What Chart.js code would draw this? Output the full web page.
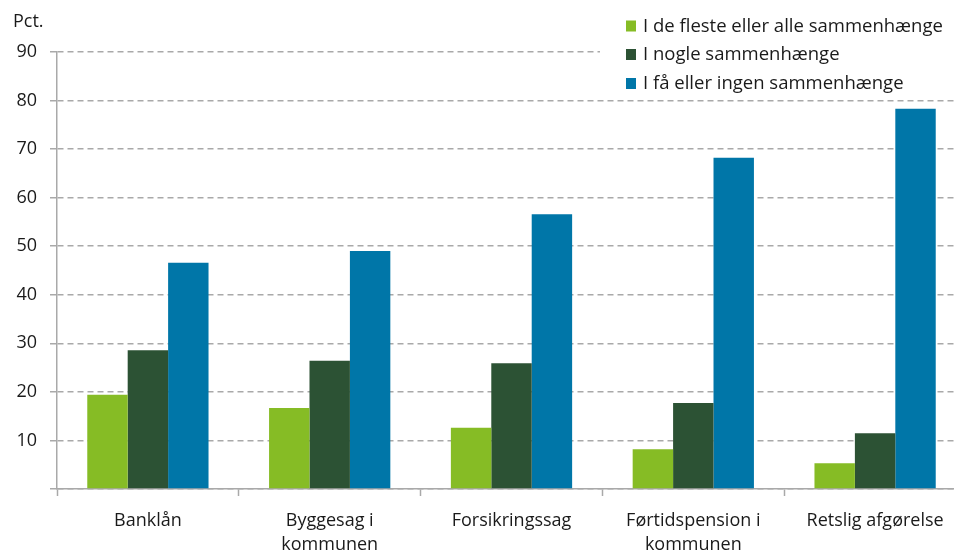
<!DOCTYPE html>
<html lang="da">
<head>
<meta charset="utf-8">
<title>Pct.</title>
<script src="https://cdn.jsdelivr.net/npm/chart.js@4/dist/chart.umd.min.js"></script>
<style>
  html, body { margin: 0; padding: 0; background: #ffffff; overflow: hidden; }
  #wrap { position: relative; width: 966px; height: 550px; }
</style>
</head>
<body>
<div id="wrap"><canvas id="chart"></canvas></div>
<script>
// Categories (multi-line labels as arrays)
const categories = [
  'Banklån',
  ['Byggesag i', 'kommunen'],
  'Forsikringssag',
  ['Førtidspension i', 'kommunen'],
  'Retslig afgørelse'
];

// Series values (pct.)
const seriesNames = [
  'I de fleste eller alle sammenhænge',
  'I nogle sammenhænge',
  'I få eller ingen sammenhænge'
];
const mostOrAll = [19.4, 16.7, 12.6, 8.2, 5.3];
const some      = [28.6, 26.4, 25.9, 17.7, 11.5];
const fewOrNone = [46.6, 49.0, 56.6, 68.2, 78.3];

const seriesColors = ['#86bc25', '#2c5234', '#0076a8'];

// Y-axis ticks
const yTicks = [0, 10, 20, 30, 40, 50, 60, 70, 80, 90];
const yUnit = 'Pct.';

const FONT = '"Open Sans", "Noto Sans", sans-serif';
const TEXT = '#1a1a1a';
const GRID = '#a9a9a9';

// Unit label above the y axis and a legend box (white background) in the top-right corner
const annotations = {
  id: 'annotations',
  afterDraw(chart) {
    const ctx = chart.ctx;
    ctx.save();
    ctx.fillStyle = TEXT;
    ctx.textAlign = 'left';
    ctx.textBaseline = 'alphabetic';
    ctx.font = '18px ' + FONT;
    ctx.fillText(yUnit, 13, 27);

    ctx.fillStyle = '#ffffff';
    ctx.fillRect(600, 0, chart.width - 600, 95);

    ctx.font = '18.5px ' + FONT;
    const baselines = [31.5, 60, 89];
    chart.data.datasets.forEach((ds, i) => {
      const b = baselines[i];
      ctx.fillStyle = ds.backgroundColor;
      ctx.fillRect(626, b - 11, 10, 11);
      ctx.fillStyle = TEXT;
      ctx.fillText(ds.label, 643, b);
    });
    ctx.restore();
  }
};

new Chart(document.getElementById('chart'), {
  type: 'bar',
  data: {
    labels: categories,
    datasets: [
      { label: seriesNames[0], data: mostOrAll, backgroundColor: seriesColors[0] },
      { label: seriesNames[1], data: some,      backgroundColor: seriesColors[1] },
      { label: seriesNames[2], data: fewOrNone, backgroundColor: seriesColors[2] }
    ]
  },
  options: {
    responsive: true,
    maintainAspectRatio: false,
    animation: false,
    layout: { padding: { top: 52, right: 0, left: 0, bottom: 0 } },
    datasets: {
      bar: { categoryPercentage: 0.667, barPercentage: 1.0, borderWidth: 0 }
    },
    plugins: {
      legend: { display: false },
      tooltip: { enabled: false }
    },
    scales: {
      x: {
        offset: true,
        afterFit(scale) { scale.height = 61; },
        grid: {
          offset: true,
          drawOnChartArea: false,
          drawTicks: true,
          tickLength: 7,
          tickColor: GRID,
          tickWidth: 1.5
        },
        border: { display: true, color: GRID, width: 1.5 },
        ticks: {
          color: TEXT,
          padding: 13,
          maxRotation: 0,
          autoSkip: false,
          font: { family: FONT, size: 18, lineHeight: 1.33 }
        }
      },
      y: {
        min: 0,
        max: 90,
        afterFit(scale) { scale.width = 57; },
        afterBuildTicks(scale) { scale.ticks = yTicks.map(v => ({ value: v })); },
        grid: {
          color: GRID,
          lineWidth: 1.5,
          drawTicks: true,
          tickLength: 7,
          tickColor: GRID,
          tickWidth: 1.5,
          tickBorderDash: []
        },
        border: { display: true, color: GRID, width: 1.5, dash: [6, 4] },
        ticks: {
          color: TEXT,
          padding: 13,
          callback: v => (v === 0 ? '' : v),
          font: { family: FONT, size: 18 }
        }
      }
    }
  },
  plugins: [annotations]
});
</script>
</body>
</html>
